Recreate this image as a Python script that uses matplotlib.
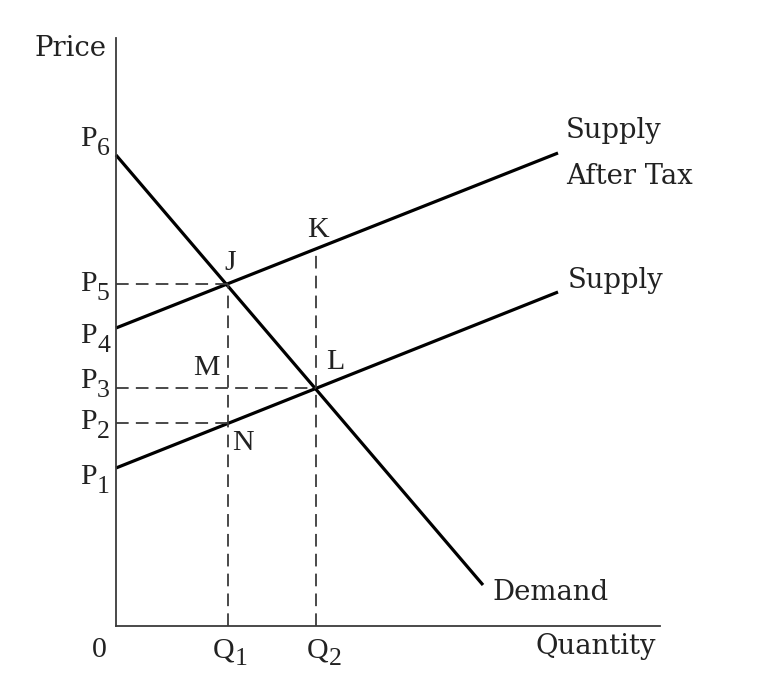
import numpy as np
import matplotlib.pyplot as plt

# data (arbitrary units)
demand_q = [0, 367]
demand_p = [471, 41]
supply_q = [0, 442]
supply_p = [158, 334]
tax_q = [0, 442]
tax_p = [298, 473]
Q1, Q2 = 112, 200
p_subs = ['1', '2', '3', '4', '5', '6']
q_subs = ['1', '2']


def line_at(qs, ps, q):
    return np.interp(q, qs, ps)


P5 = line_at(tax_q, tax_p, Q1)
P3 = line_at(supply_q, supply_p, Q2)
P2 = line_at(supply_q, supply_p, Q1)
K = line_at(tax_q, tax_p, Q2)
p_values = [supply_p[0], P2, P3, tax_p[0], P5, demand_p[0]]

W, H = 758, 692
fig = plt.figure(figsize=(W / 100, H / 100), dpi=100)
# 1 data unit = 1 pixel
ax = fig.add_axes([116 / W, (H - 626) / H, 544 / W, 588 / H])
ax.set_xlim(0, 544)
ax.set_ylim(0, 588)
for s in ['top', 'right']:
    ax.spines[s].set_visible(False)
for s in ['left', 'bottom']:
    ax.spines[s].set_linewidth(1.3)
    ax.spines[s].set_color('#3a3a3a')
ax.set_xticks([])
ax.set_yticks([])

lw = 2.3
ax.plot(demand_q, demand_p, color='black', lw=lw, solid_capstyle='butt', clip_on=False)
ax.plot(supply_q, supply_p, color='black', lw=lw, solid_capstyle='butt', clip_on=False)
ax.plot(tax_q, tax_p, color='black', lw=lw, solid_capstyle='butt', clip_on=False)

dash = dict(color='#3a3a3a', lw=1.3, dashes=(7, 4))
ax.plot([0, Q1], [P5, P5], **dash)
ax.plot([0, Q2], [P3, P3], **dash)
ax.plot([0, Q1], [P2, P2], **dash)
ax.plot([Q1, Q1], [0, P5], **dash)
ax.plot([Q2, Q2], [0, K], **dash)

word = dict(family='DejaVu Serif', fontsize=19.8, color='#222222')
sym = dict(family='Liberation Serif', fontsize=21.5, color='#222222')
big = dict(family='Liberation Serif', fontsize=21.5, color='#222222')
sub = dict(family='Liberation Serif', fontsize=18.5, color='#222222')

ax.text(-9, 578, 'Price', ha='right', va='center', **word)

# P labels: letter + lowered subscript
p_offsets = [-9, 1, 7, -8, 0, 16]
for s, p, off in zip(p_subs, p_values, p_offsets):
    ax.text(-19, p + off, 'P', ha='right', va='center', **big)
    ax.text(-19, p + off - 10, s, ha='left', va='center', **sub)

ax.text(-17, -24, '0', ha='center', va='center', **big)
q_offsets = [6, 12]
for s, q, off in zip(q_subs, [Q1, Q2], q_offsets):
    ax.text(q + off, -24, 'Q', ha='right', va='center', **big)
    ax.text(q + off + 1, -33, s, ha='left', va='center', **sub)

ax.text(540, -21, 'Quantity', ha='right', va='center', **word)
ax.text(376, 33, 'Demand', ha='left', va='center', **word)
ax.text(450, 495, 'Supply', ha='left', va='center', **word)
ax.text(450, 449, 'After Tax', ha='left', va='center', **word)
ax.text(452, 345, 'Supply', ha='left', va='center', **word)

ax.text(Q1 + 2, P5 + 21, 'J', ha='center', va='center', **sym)
ax.text(Q2 + 2, K + 19, 'K', ha='center', va='center', **sym)
ax.text(Q1 - 22, 258, 'M', ha='center', va='center', **sym)
ax.text(Q2 + 19, 264, 'L', ha='center', va='center', **sym)
ax.text(Q1 + 15, 183, 'N', ha='center', va='center', **sym)

fig.savefig('out.png', dpi=100)
